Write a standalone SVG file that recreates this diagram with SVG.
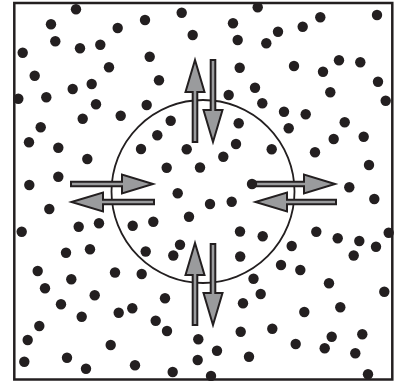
<svg xmlns="http://www.w3.org/2000/svg" width="397" height="381" viewBox="0 0 397 381">
<style>
.d{fill:#231f20}
.arr{fill:#9a9b9d;stroke:#231f20;stroke-width:2;stroke-linejoin:miter}
.mem{fill:none;stroke:#231f20;stroke-width:1.8}
.frame{fill:#fff;stroke:#231f20;stroke-width:2.5}
</style>
<rect class="frame" x="14.3" y="3" width="378" height="376.5"/>
<g id="particles">
<circle class="d" cx="76" cy="9.3" r="5.2"/><circle class="d" cx="181.7" cy="12.7" r="5.2"/><circle class="d" cx="51" cy="24.3" r="5.2"/><circle class="d" cx="145" cy="20" r="5.2"/><circle class="d" cx="117.7" cy="28" r="5.2"/><circle class="d" cx="192.7" cy="35" r="5.2"/><circle class="d" cx="55.3" cy="41.3" r="5.2"/><circle class="d" cx="80" cy="48.3" r="5.2"/><circle class="d" cx="100.3" cy="44.7" r="5.2"/><circle class="d" cx="22.7" cy="52.7" r="5.2"/><circle class="d" cx="149.7" cy="56.7" r="5.2"/><circle class="d" cx="109" cy="67.3" r="5.2"/><circle class="d" cx="34.7" cy="75.7" r="5.2"/><circle class="d" cx="159" cy="80.3" r="5.2"/><circle class="d" cx="91.7" cy="84" r="5.2"/><circle class="d" cx="72.7" cy="89" r="5.2"/><circle class="d" cx="18.3" cy="98.7" r="5.2"/><circle class="d" cx="46.3" cy="97.3" r="5.2"/><circle class="d" cx="96" cy="104.3" r="5.2"/><circle class="d" cx="146.7" cy="105" r="5.2"/><circle class="d" cx="120.7" cy="115.7" r="5.2"/><circle class="d" cx="82.7" cy="118.7" r="5.2"/><circle class="d" cx="170.7" cy="120.7" r="5.2"/><circle class="d" cx="40.7" cy="127.3" r="5.2"/>
<circle class="d" cx="257.7" cy="7.3" r="5.2"/><circle class="d" cx="320.3" cy="17.3" r="5.2"/><circle class="d" cx="377" cy="15" r="5.2"/><circle class="d" cx="233" cy="23.3" r="5.2"/><circle class="d" cx="302.7" cy="26.7" r="5.2"/><circle class="d" cx="278" cy="31.7" r="5.2"/><circle class="d" cx="237.7" cy="40" r="5.2"/><circle class="d" cx="266.3" cy="43.3" r="5.2"/><circle class="d" cx="239.7" cy="67.7" r="5.2"/><circle class="d" cx="294" cy="66" r="5.2"/><circle class="d" cx="339" cy="60.3" r="5.2"/><circle class="d" cx="360.3" cy="62.3" r="5.2"/><circle class="d" cx="323" cy="71.7" r="5.2"/><circle class="d" cx="378" cy="81.7" r="5.2"/><circle class="d" cx="255" cy="87.7" r="5.2"/><circle class="d" cx="330.3" cy="92.3" r="5.2"/><circle class="d" cx="228.7" cy="95" r="5.2"/><circle class="d" cx="385.7" cy="100.7" r="5.2"/><circle class="d" cx="262.3" cy="103.3" r="5.2"/><circle class="d" cx="284" cy="111.7" r="5.2"/><circle class="d" cx="305.7" cy="114.3" r="5.2"/><circle class="d" cx="238.7" cy="123.3" r="5.2"/><circle class="d" cx="288.7" cy="128.3" r="5.2"/><circle class="d" cx="344.7" cy="122.3" r="5.2"/>
<circle class="d" cx="157.3" cy="135.3" r="5.2"/><circle class="d" cx="236" cy="144" r="5.2"/><circle class="d" cx="141" cy="149" r="5.2"/><circle class="d" cx="186.7" cy="149.3" r="5.2"/><circle class="d" cx="223.3" cy="156.7" r="5.2"/><circle class="d" cx="271.7" cy="149.3" r="5.2"/>
<circle class="d" cx="29" cy="142.3" r="5.2"/><circle class="d" cx="58.3" cy="147.7" r="5.2"/><circle class="d" cx="87.3" cy="159" r="5.2"/><circle class="d" cx="166.7" cy="167.7" r="5.2"/><circle class="d" cx="200" cy="167.5" r="5.2"/><circle class="d" cx="29.3" cy="185" r="5.2"/><circle class="d" cx="58.3" cy="176.7" r="5.2"/><circle class="d" cx="177.7" cy="193.3" r="5.2"/><circle class="d" cx="49.3" cy="209" r="5.2"/><circle class="d" cx="189" cy="216.7" r="5.2"/><circle class="d" cx="21.7" cy="231.7" r="5.2"/><circle class="d" cx="78.7" cy="226.7" r="5.2"/><circle class="d" cx="99" cy="223.3" r="5.2"/><circle class="d" cx="132.7" cy="225.7" r="5.2"/><circle class="d" cx="153.3" cy="221.7" r="5.2"/><circle class="d" cx="66" cy="252.7" r="5.2"/><circle class="d" cx="90" cy="249.3" r="5.2"/><circle class="d" cx="145.7" cy="251.5" r="5.2"/><circle class="d" cx="180" cy="244.7" r="5.2"/><circle class="d" cx="173.3" cy="255.5" r="5.2"/>
<circle class="d" cx="210" cy="204" r="5.2"/><circle class="d" cx="231.7" cy="201.7" r="5.2"/><circle class="d" cx="240" cy="231.5" r="5.2"/><circle class="d" cx="262.7" cy="236.3" r="5.2"/><circle class="d" cx="291.7" cy="246" r="5.2"/><circle class="d" cx="240.2" cy="256.5" r="5.2"/>
<circle class="d" cx="333.7" cy="139" r="5.2"/><circle class="d" cx="363.7" cy="136.7" r="5.2"/><circle class="d" cx="315" cy="152.3" r="5.2"/><circle class="d" cx="369" cy="165" r="5.2"/><circle class="d" cx="349.3" cy="187.3" r="5.2"/><circle class="d" cx="374.3" cy="199" r="5.2"/><circle class="d" cx="316.3" cy="231.7" r="5.2"/><circle class="d" cx="337.7" cy="238.3" r="5.2"/><circle class="d" cx="359.3" cy="241" r="5.2"/><circle class="d" cx="388.7" cy="232.7" r="5.2"/><circle class="d" cx="376" cy="246.7" r="5.2"/><circle class="d" cx="353.7" cy="255.5" r="5.2"/>
<circle class="d" cx="37.7" cy="271" r="5.2"/><circle class="d" cx="71.3" cy="279.3" r="5.2"/><circle class="d" cx="115" cy="272.5" r="5.2"/><circle class="d" cx="141.7" cy="274" r="5.2"/><circle class="d" cx="45" cy="288.3" r="5.2"/><circle class="d" cx="94.7" cy="295.3" r="5.2"/><circle class="d" cx="165" cy="298.3" r="5.2"/><circle class="d" cx="61" cy="304.3" r="5.2"/><circle class="d" cx="118.7" cy="312.8" r="5.2"/><circle class="d" cx="132.3" cy="308.3" r="5.2"/><circle class="d" cx="81.7" cy="316.7" r="5.2"/><circle class="d" cx="155.7" cy="320.8" r="5.2"/><circle class="d" cx="39.3" cy="326" r="5.2"/><circle class="d" cx="167" cy="331" r="5.2"/><circle class="d" cx="27.7" cy="340" r="5.2"/><circle class="d" cx="110.7" cy="345" r="5.2"/><circle class="d" cx="198.3" cy="339.2" r="5.2"/><circle class="d" cx="24.3" cy="361.7" r="5.2"/><circle class="d" cx="67" cy="357.7" r="5.2"/><circle class="d" cx="86" cy="368.7" r="5.2"/><circle class="d" cx="135" cy="365.3" r="5.2"/><circle class="d" cx="172.7" cy="372" r="5.2"/><circle class="d" cx="197.7" cy="360" r="5.2"/>
<circle class="d" cx="281" cy="265" r="5.2"/><circle class="d" cx="300.3" cy="270" r="5.2"/><circle class="d" cx="253.5" cy="278.7" r="5.2"/><circle class="d" cx="329" cy="283.3" r="5.2"/><circle class="d" cx="384.3" cy="291.7" r="5.2"/><circle class="d" cx="260.7" cy="294" r="5.2"/><circle class="d" cx="243" cy="303.3" r="5.2"/><circle class="d" cx="304.3" cy="312" r="5.2"/><circle class="d" cx="340.3" cy="307.3" r="5.2"/><circle class="d" cx="240.7" cy="331.7" r="5.2"/><circle class="d" cx="272.3" cy="328.7" r="5.2"/><circle class="d" cx="217" cy="350.7" r="5.2"/><circle class="d" cx="295.7" cy="344" r="5.2"/><circle class="d" cx="331.7" cy="336.7" r="5.2"/><circle class="d" cx="324.7" cy="348.3" r="5.2"/><circle class="d" cx="362.3" cy="334.3" r="5.2"/><circle class="d" cx="355.3" cy="353.3" r="5.2"/><circle class="d" cx="249" cy="356.7" r="5.2"/><circle class="d" cx="211" cy="376" r="5.2"/><circle class="d" cx="368" cy="374.3" r="5.2"/>
</g>
<circle id="membrane" class="mem" cx="203" cy="191.5" r="91.5"/>
<g id="arrows">
<g id="top-pair">
<path class="arr" d="M195,60 L204.5,92 L197.3,92 L197.3,142 L192.7,142 L192.7,92 L185.5,92 Z"/>
<path class="arr" d="M213,142 L222.5,110 L215.3,110 L215.3,60 L210.7,60 L210.7,110 L203.5,110 Z"/>
</g>
<g id="bottom-pair">
<path class="arr" d="M195,243 L204.5,275 L197.3,275 L197.3,325 L192.7,325 L192.7,275 L185.5,275 Z"/>
<path class="arr" d="M213,325 L222.5,293 L215.3,293 L215.3,244 L210.7,244 L210.7,293 L203.5,293 Z"/>
</g>
<g id="left-pair">
<path class="arr" d="M153,184 L122,174.5 L122,181.7 L71,181.7 L71,186.3 L122,186.3 L122,193.5 Z"/>
<path class="arr" d="M71.5,202 L103,192.5 L103,199.7 L154,199.7 L154,204.3 L103,204.3 L103,211.5 Z"/>
</g>
<g id="right-pair">
<path class="arr" d="M335,184 L304,174.5 L304,181.7 L252,181.7 L252,186.3 L304,186.3 L304,193.5 Z"/>
<circle class="d" cx="252" cy="184" r="5.2"/>
<path class="arr" d="M255.5,202 L287,192.5 L287,199.7 L336,199.7 L336,204.3 L287,204.3 L287,211.5 Z"/>
</g>
</g>
</svg>
